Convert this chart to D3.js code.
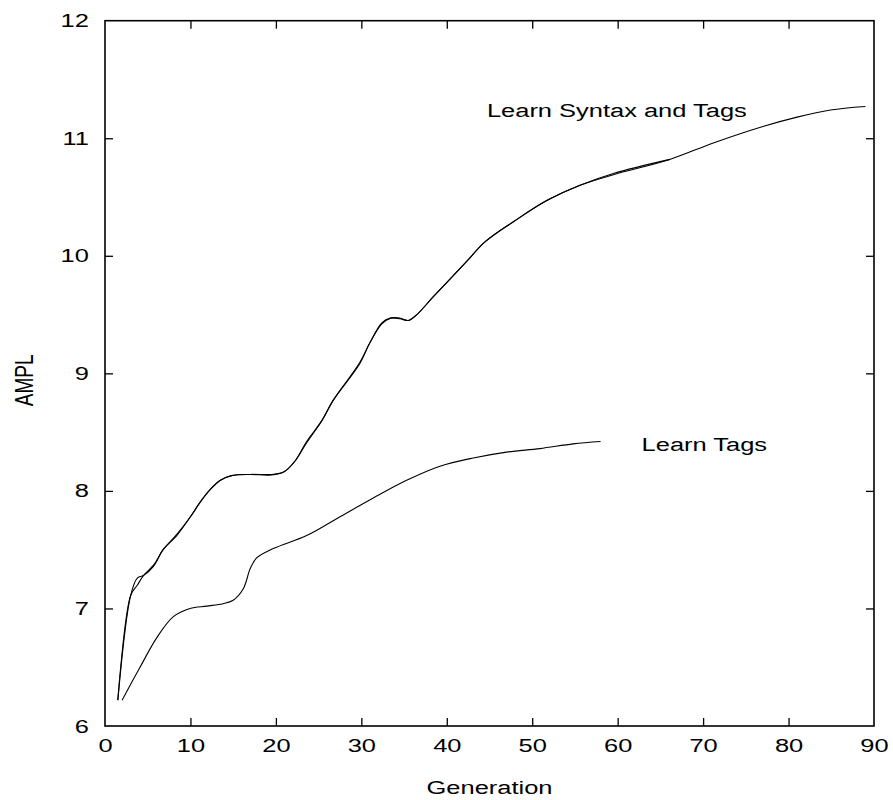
<!DOCTYPE html>
<html>
<head>
<meta charset="utf-8">
<script src="https://cdn.jsdelivr.net/npm/d3@7"></script>
<style>
  html, body { margin: 0; padding: 0; background: #fff; }
  svg text { font-family: "Liberation Sans", Arial, Helvetica, sans-serif; fill: #000; }
</style>
</head>
<body>
<svg id="chart" width="893" height="800"></svg>
<script>
// ---- data ----
const syntaxGen = [1.5, 3.0, 3.8, 4.5, 5.7, 6.8, 8.4, 10.0, 11.1, 12.3, 13.5, 14.8, 17.0, 19.5, 20.9, 22.2, 23.6, 25.4, 26.7, 29.8, 31.0, 32.4, 33.4, 34.5, 35.5, 36.5, 38.4, 42.3, 44.5, 47.8, 51.7, 55.6, 59.5, 66.1, 71.2, 77.0, 81.0, 84.9, 89.0];
const syntaxRunA = [6.22, 7.11, 7.26, 7.28, 7.36, 7.50, 7.62, 7.78, 7.90, 8.01, 8.09, 8.13, 8.14, 8.135, 8.16, 8.25, 8.41, 8.60, 8.77, 9.09, 9.26, 9.43, 9.47, 9.465, 9.45, 9.50, 9.65, 9.95, 10.12, 10.29, 10.47, 10.60, 10.70, 10.82, null, null, null, null, null];
const syntaxRunB = [6.22, 7.11, 7.20, 7.28, 7.37, 7.50, 7.63, 7.78, 7.90, 8.01, 8.09, 8.13, 8.14, 8.14, 8.16, 8.25, 8.42, 8.60, 8.77, 9.08, 9.26, 9.42, 9.47, 9.47, 9.45, 9.50, 9.65, 9.95, 10.12, 10.29, 10.47, 10.60, 10.69, 10.82, 10.96, 11.10, 11.18, 11.24, 11.27];
const tagsGen = [2.0, 4.1, 6.05, 8.0, 9.95, 11.9, 13.8, 15.0, 16.2, 17.0, 17.75, 19.7, 23.6, 27.5, 31.4, 35.3, 39.2, 43.1, 47.0, 50.9, 54.8, 58.0];
const tagsRun = [6.22, 6.50, 6.75, 6.93, 7.00, 7.02, 7.04, 7.07, 7.17, 7.34, 7.43, 7.51, 7.62, 7.78, 7.94, 8.09, 8.21, 8.28, 8.33, 8.36, 8.40, 8.42];
const xTicks = [0, 10, 20, 30, 40, 50, 60, 70, 80, 90];
const yTicks = [6, 7, 8, 9, 10, 11, 12];
const labels = [
  { text: "Learn Syntax and Tags", gen: 44.7, val: 11.18 },
  { text: "Learn Tags", gen: 62.8, val: 8.34 }
];

// ---- layout ----
const svg = d3.select("#chart");
const L = 105, R = 874, T = 20.7, B = 726;
const SX = 1.34, FS = 19;
const x = d3.scaleLinear().domain([0, 90]).range([L, R]);
const y = d3.scaleLinear().domain([6, 12]).range([B, T]);

const tick = 8;
function styleAxis(g) {
  g.selectAll("path.domain").remove();
  g.selectAll(".tick line").attr("stroke", "#000").attr("stroke-width", 1.3);
  g.selectAll("text").attr("font-size", FS).attr("font-family", null).attr("fill", "#000");
}

// bottom axis with labels
const gB = svg.append("g").attr("transform", `translate(0,${B})`)
  .call(d3.axisBottom(x).tickValues(xTicks).tickSizeInner(-tick).tickSizeOuter(0).tickPadding(13).tickFormat(d3.format("d")));
styleAxis(gB);
gB.selectAll("text").attr("transform", `scale(${SX},1)`).attr("x", 0);
gB.selectAll(".tick").filter(d => d === 0 || d === 90).select("line").remove();

// top axis (ticks only)
const gT = svg.append("g").attr("transform", `translate(0,${T})`)
  .call(d3.axisTop(x).tickValues(xTicks).tickSizeInner(-tick).tickSizeOuter(0).tickFormat(""));
styleAxis(gT);
gT.selectAll(".tick").filter(d => d === 0 || d === 90).select("line").remove();

// left axis with labels
const gL = svg.append("g").attr("transform", `translate(${L},0)`)
  .call(d3.axisLeft(y).tickValues(yTicks).tickSizeInner(-tick).tickSizeOuter(0).tickPadding(12).tickFormat(d3.format("d")));
styleAxis(gL);
gL.selectAll("text").attr("transform", `scale(${SX},1)`);
gL.selectAll(".tick").filter(d => d === 6 || d === 12).select("line").remove();

// right axis (ticks only)
const gR = svg.append("g").attr("transform", `translate(${R},0)`)
  .call(d3.axisRight(y).tickValues(yTicks).tickSizeInner(-tick).tickSizeOuter(0).tickFormat(""));
styleAxis(gR);
gR.selectAll(".tick").filter(d => d === 6 || d === 12).select("line").remove();

// frame
svg.append("rect").attr("x", L).attr("y", T).attr("width", R - L).attr("height", B - T)
  .attr("fill", "none").attr("stroke", "#000").attr("stroke-width", 1.6);

// lines
const line = d3.line()
  .defined(d => d[1] != null)
  .x(d => x(d[0])).y(d => y(d[1]))
  .curve(d3.curveCatmullRom.alpha(0.5));

const series = [
  d3.zip(syntaxGen, syntaxRunA),
  d3.zip(syntaxGen, syntaxRunB),
  d3.zip(tagsGen, tagsRun)
];
svg.append("g").selectAll("path").data(series).join("path")
  .attr("d", line)
  .attr("fill", "none")
  .attr("stroke", "#000")
  .attr("stroke-width", 1.1)
  .attr("stroke-linejoin", "round");

// curve labels
labels.forEach(l => {
  svg.append("g").attr("transform", `translate(${x(l.gen)},${y(l.val)}) scale(${SX},1)`)
    .append("text").attr("font-size", FS).text(l.text);
});

// axis titles
svg.append("g").attr("transform", `translate(${(L + R) / 2},794) scale(${SX},1)`)
  .append("text").attr("font-size", FS).attr("text-anchor", "middle").text("Generation");
svg.append("g").attr("transform", `translate(33,${(T + B) / 2 + 7}) scale(${SX},1) rotate(-90)`)
  .append("text").attr("font-size", FS).attr("text-anchor", "middle").text("AMPL");
</script>
</body>
</html>
